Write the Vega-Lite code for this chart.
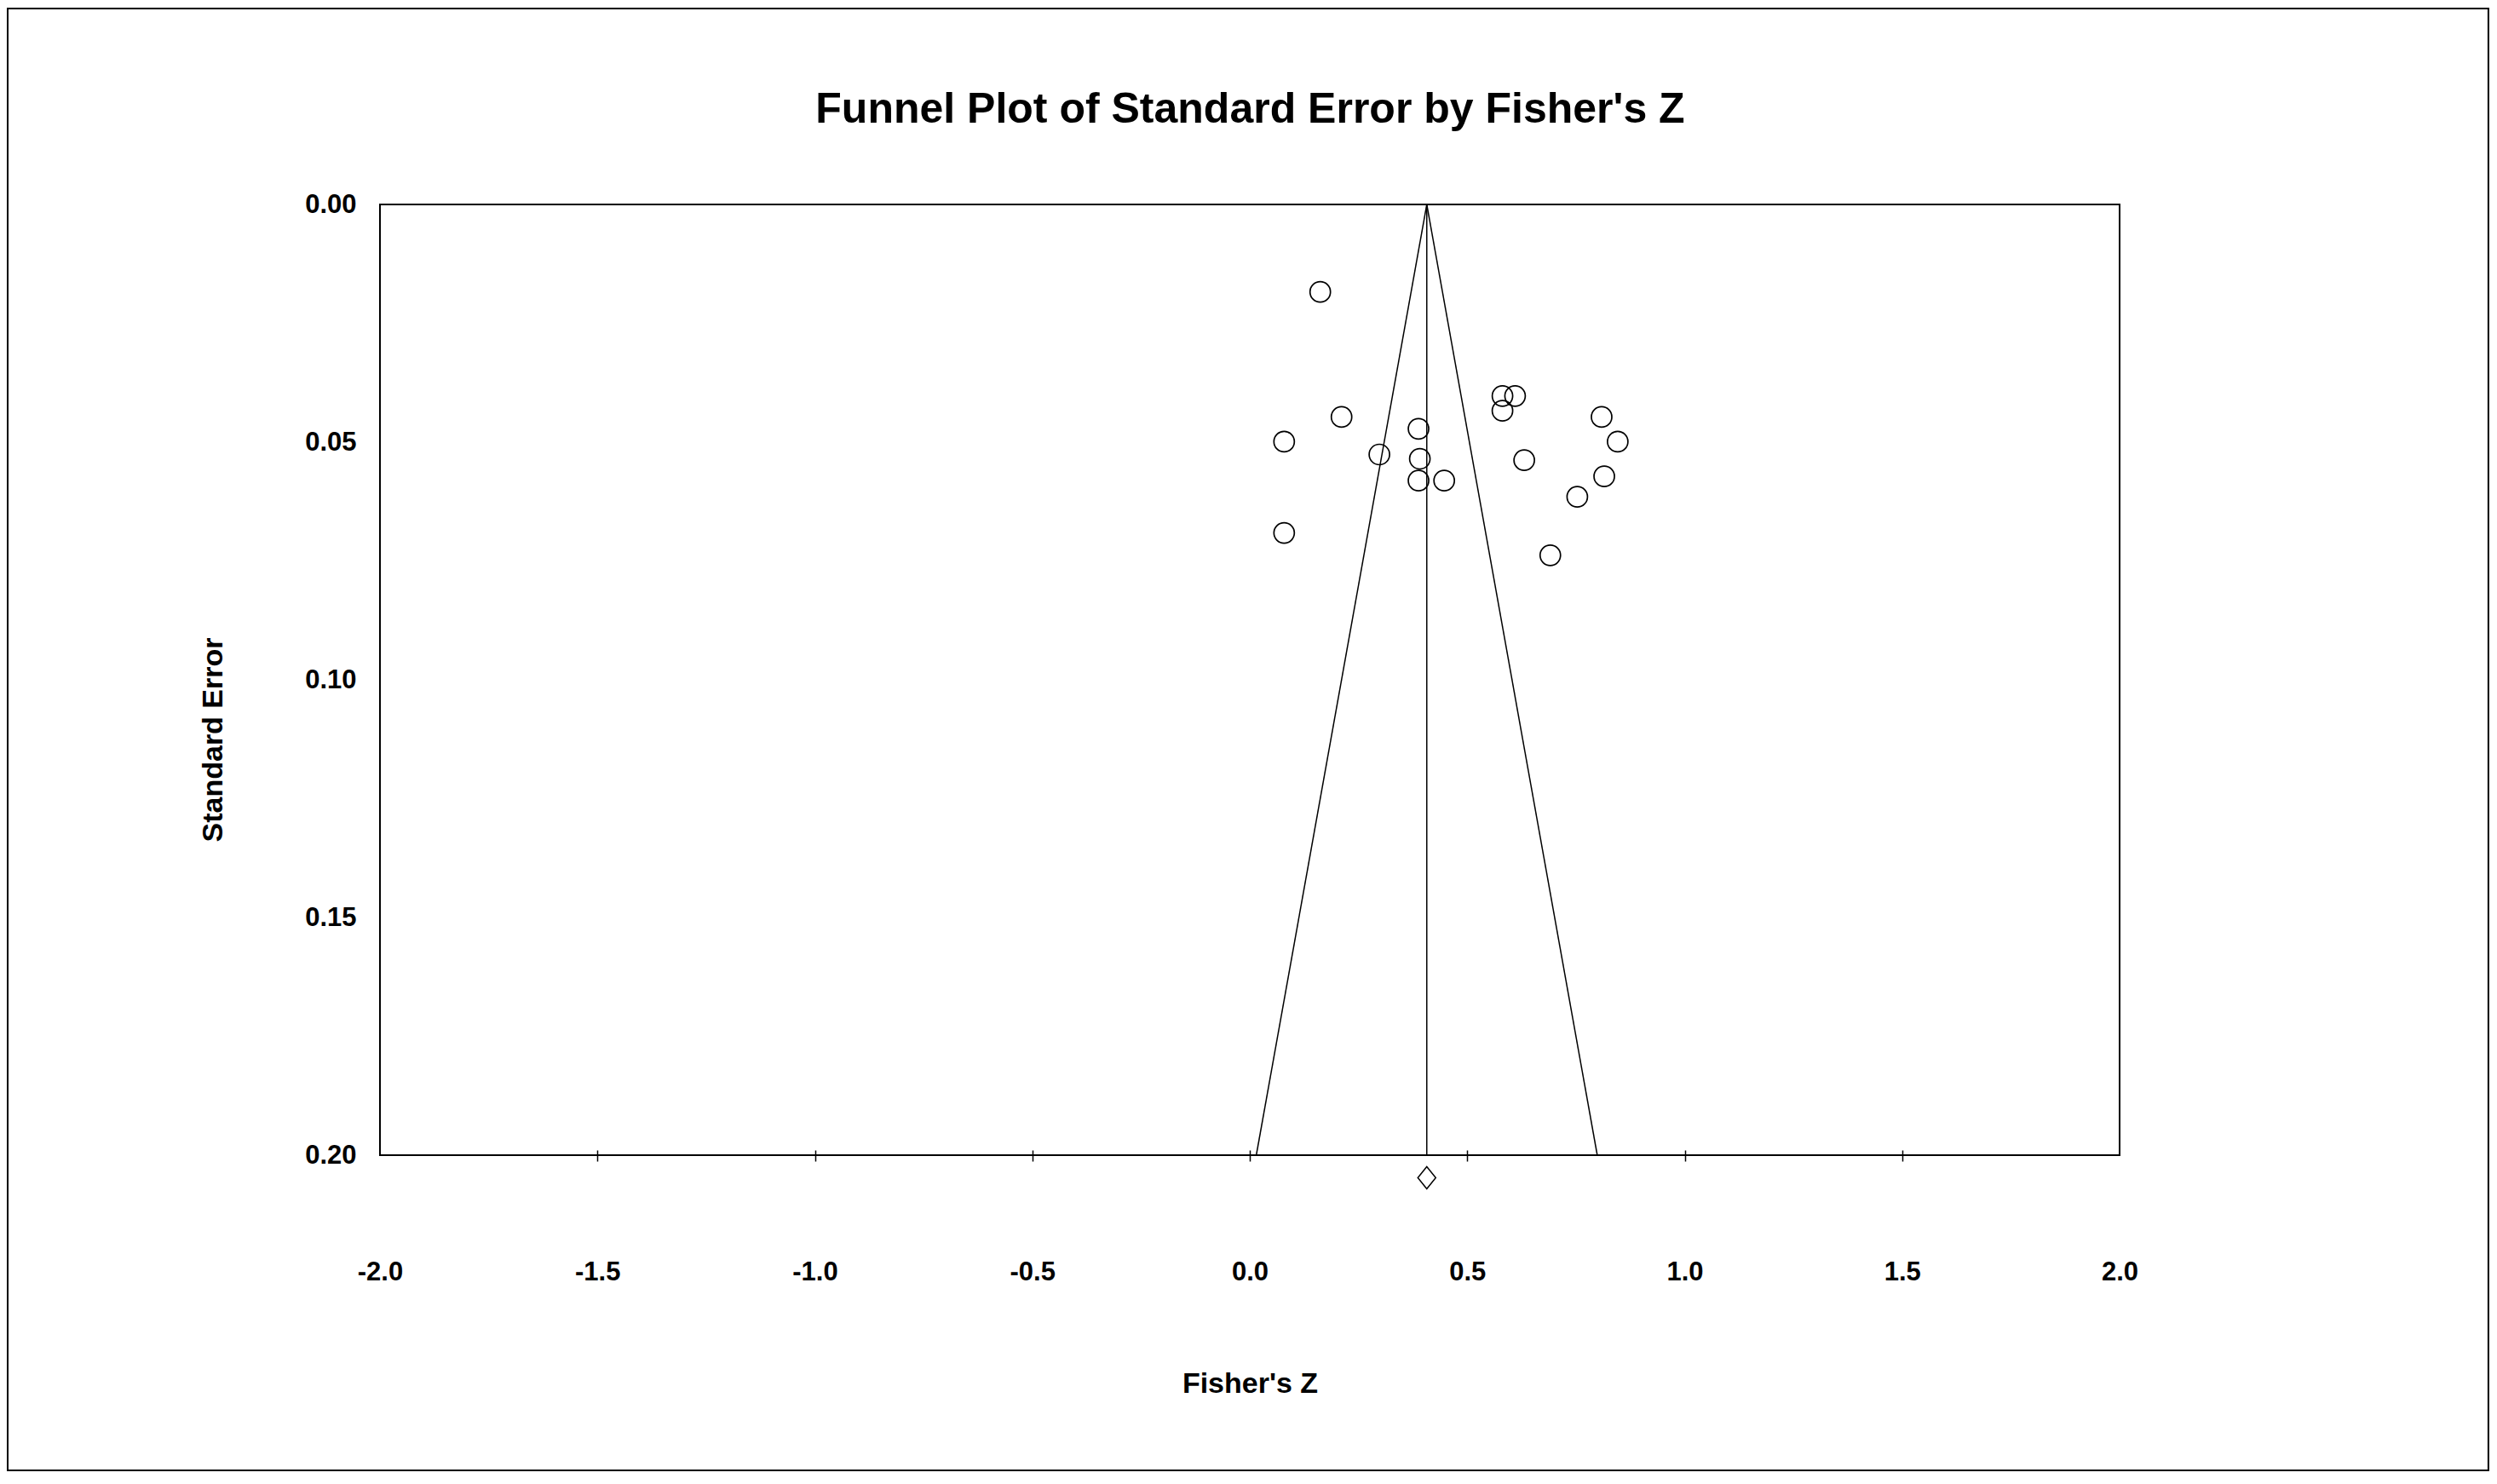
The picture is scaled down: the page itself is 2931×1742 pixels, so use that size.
{
  "$schema": "https://vega.github.io/schema/vega-lite/v6.json",
  "width": 2042,
  "height": 1116,
  "autosize": {"type": "none"},
  "padding": {"left": 446, "top": 240, "right": 443, "bottom": 386},
  "background": "white",
  "config": {
    "view": {"stroke": "black", "strokeWidth": 2},
    "font": "Liberation Sans",
    "axis": {
      "labelFont": "Liberation Sans",
      "titleFont": "Liberation Sans",
      "labelColor": "black",
      "titleColor": "black",
      "labelFontWeight": "bold",
      "titleFontWeight": "bold",
      "grid": false,
      "domain": false,
      "labelFlush": false,
      "labelOverlap": false
    }
  },
  "datasets": {
    "studies": [
      {"study": 1, "z": 0.162, "se": 0.0184},
      {"study": 2, "z": 0.581, "se": 0.0403},
      {"study": 3, "z": 0.610, "se": 0.0403},
      {"study": 4, "z": 0.581, "se": 0.0434},
      {"study": 5, "z": 0.211, "se": 0.0447},
      {"study": 6, "z": 0.809, "se": 0.0447},
      {"study": 7, "z": 0.388, "se": 0.0472},
      {"study": 8, "z": 0.079, "se": 0.0499},
      {"study": 9, "z": 0.846, "se": 0.0499},
      {"study": 10, "z": 0.298, "se": 0.0526},
      {"study": 11, "z": 0.391, "se": 0.0535},
      {"study": 12, "z": 0.631, "se": 0.0538},
      {"study": 13, "z": 0.388, "se": 0.0581},
      {"study": 14, "z": 0.447, "se": 0.0581},
      {"study": 15, "z": 0.815, "se": 0.0572},
      {"study": 16, "z": 0.753, "se": 0.0615},
      {"study": 17, "z": 0.079, "se": 0.0691},
      {"study": 18, "z": 0.691, "se": 0.0738}
    ],
    "funnel": [
      {"line": "lower", "z": 0.407, "se": 0},
      {"line": "lower", "z": 0.015, "se": 0.2},
      {"line": "upper", "z": 0.407, "se": 0},
      {"line": "upper", "z": 0.799, "se": 0.2},
      {"line": "mean", "z": 0.407, "se": 0},
      {"line": "mean", "z": 0.407, "se": 0.2}
    ],
    "summary": [{"study": "Combined", "z": 0.407}]
  },
  "resolve": {"axis": {"x": "independent", "y": "independent"}},
  "layer": [
    {
      "data": {"name": "summary"},
      "mark": {"type": "rect", "filled": false, "stroke": "black", "strokeWidth": 2},
      "encoding": {
        "x": {
          "datum": -2.856,
          "type": "quantitative",
          "scale": {"domain": [-2, 2], "nice": false, "zero": false},
          "axis": {
            "orient": "top",
            "labels": false,
            "ticks": false,
            "domain": false,
            "title": "Funnel Plot of Standard Error by Fisher's Z",
            "titleFontSize": 50,
            "titleBaseline": "alphabetic",
            "titleY": -97
          }
        },
        "x2": {"datum": 2.848},
        "y": {
          "datum": -0.04122,
          "type": "quantitative",
          "scale": {"domain": [0, 0.2], "reverse": true, "nice": false, "zero": false},
          "axis": null
        },
        "y2": {"datum": 0.26631}
      }
    },
    {
      "data": {"name": "funnel"},
      "mark": {"type": "line", "color": "black", "strokeWidth": 1.5},
      "encoding": {
        "x": {"field": "z", "type": "quantitative", "scale": {"domain": [-2, 2], "nice": false, "zero": false}, "axis": null},
        "y": {"field": "se", "type": "quantitative", "scale": {"domain": [0, 0.2], "reverse": true, "nice": false, "zero": false}, "axis": null},
        "detail": {"field": "line"},
        "order": {"field": "se"}
      }
    },
    {
      "data": {"name": "studies"},
      "mark": {"type": "point", "shape": "circle", "filled": false, "stroke": "black", "strokeWidth": 1.7, "size": 576, "opacity": 1},
      "encoding": {
        "x": {
          "field": "z",
          "type": "quantitative",
          "scale": {"domain": [-2, 2], "nice": false, "zero": false},
          "axis": {
            "orient": "bottom",
            "values": [-2, -1.5, -1, -0.5, 0, 0.5, 1, 1.5, 2],
            "labelExpr": "(datum.value < 0 ? '-' : '') + format(abs(datum.value), '.1f')",
            "domain": false,
            "offset": -6,
            "tickSize": 13,
            "tickWidth": 1.5,
            "tickColor": "black",
            "tickOpacity": {"condition": {"test": "abs(datum.value) > 1.9", "value": 0}, "value": 1},
            "labelPadding": 139,
            "labelBaseline": "alphabetic",
            "labelFlush": false,
            "labelFontSize": 31,
            "title": "Fisher's Z",
            "titleFontSize": 34,
            "titleBaseline": "alphabetic",
            "titleY": 284
          }
        },
        "y": {
          "field": "se",
          "type": "quantitative",
          "scale": {"domain": [0, 0.2], "reverse": true, "nice": false, "zero": false},
          "axis": {
            "orient": "left",
            "values": [0, 0.05, 0.1, 0.15, 0.2],
            "format": ".2f",
            "ticks": false,
            "tickSize": 0,
            "domain": false,
            "labelPadding": 28,
            "labelFlush": false,
            "labelFontSize": 31,
            "title": "Standard Error",
            "titleFontSize": 34,
            "titleAngle": -90,
            "titleBaseline": "alphabetic",
            "titleX": -186,
            "titleY": 628
          }
        }
      }
    },
    {
      "data": {"name": "summary"},
      "mark": {"type": "point", "shape": "M0,-1.24L1,0L0,1.24L-1,0Z", "filled": false, "stroke": "black", "strokeWidth": 1.5, "size": 441, "opacity": 1},
      "encoding": {
        "x": {"field": "z", "type": "quantitative", "scale": {"domain": [-2, 2], "nice": false, "zero": false}, "axis": null},
        "y": {"datum": 0.20475, "type": "quantitative", "scale": {"domain": [0, 0.2], "reverse": true, "nice": false, "zero": false}, "axis": null}
      }
    }
  ]
}
